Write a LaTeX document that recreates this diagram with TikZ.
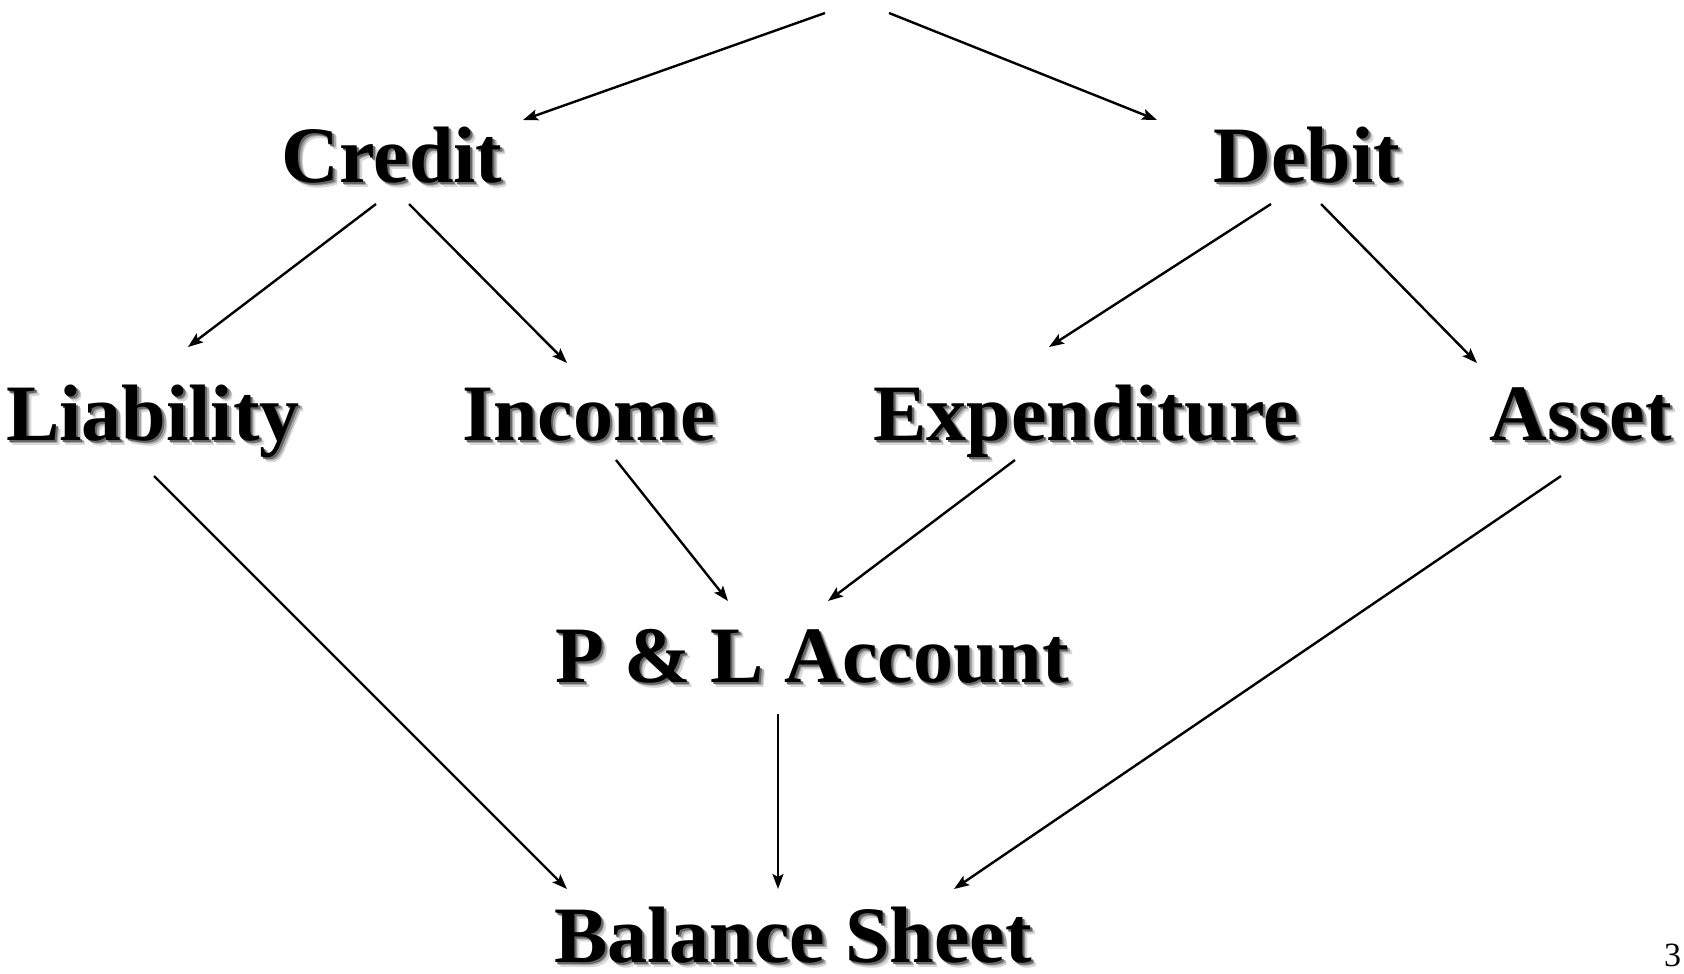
\documentclass[tikz,border=0pt]{standalone}
\usepackage{fontspec}
\setmainfont{Liberation Serif}
\usetikzlibrary{calc,arrows.meta}
\newcommand\shd[1]{\rlap{\kern5pt\raisebox{-5pt}{\textcolor{black!15}{#1}}}\rlap{\kern3.5pt\raisebox{-3.5pt}{\textcolor{black!35}{#1}}}\rlap{\kern2pt\raisebox{-2pt}{\textcolor{black!60}{#1}}}#1}
\tikzset{
  lbl/.style={anchor=base, inner sep=0pt, font=\fontsize{80}{96}\selectfont\bfseries},
  arr/.style={line width=2.4pt, -{Stealth[length=15pt,width=11pt,inset=3pt]}}
}
\begin{document}
\begin{tikzpicture}[x=1pt,y=-1pt]
\useasboundingbox (0,0) rectangle (1684,974);
\coordinate (top) at (857,13);
\node[lbl] (credit) at (392,182) {\shd{Credit}};
\node[lbl] (debit) at (1307,182) {\shd{Debit}};
\node[lbl] (liab) at (153,440) {\shd{Liability}};
\node[lbl] (income) at (589,440) {\shd{Income}};
\node[lbl] (exp) at (1086,440) {\shd{Expenditure}};
\node[lbl] (asset) at (1581,440) {\shd{Asset}};
\node[lbl] (pl) at (812,682) {\shd{P \& L Account}};
\node[lbl] (bs) at (793,962) {\shd{Balance Sheet}};
\node[anchor=base west, inner sep=0pt, font=\fontsize{34}{40}\selectfont] (num) at (1664,966) {3};
\draw[arr] ($(top)+(-32,0)$) -- ($(credit.base)+(131,-62)$);
\draw[arr] ($(top)+(32,0)$) -- ($(debit.base)+(-150,-62)$);
\draw[arr] ($(credit.base)+(-16,22)$) -- ($(liab.base)+(35,-93)$);
\draw[arr] ($(credit.base)+(17,22)$) -- ($(income.base)+(-22,-77)$);
\draw[arr] ($(debit.base)+(-36,22)$) -- ($(exp.base)+(-37,-93)$);
\draw[arr] ($(debit.base)+(14,22)$) -- ($(asset.base)+(-104,-77)$);
\draw[arr] ($(liab.base)+(1,36)$) -- ($(bs.base)+(-226,-73)$);
\draw[arr] ($(income.base)+(27,20)$) -- ($(pl.base)+(-84,-81)$);
\draw[arr] ($(exp.base)+(-71,20)$) -- ($(pl.base)+(16,-81)$);
\draw[arr] ($(asset.base)+(-20,36)$) -- ($(bs.base)+(161,-73)$);
\draw[arr] ($(pl.base)+(-34,32)$) -- ($(bs.base)+(-15,-73)$);
\end{tikzpicture}
\end{document}
